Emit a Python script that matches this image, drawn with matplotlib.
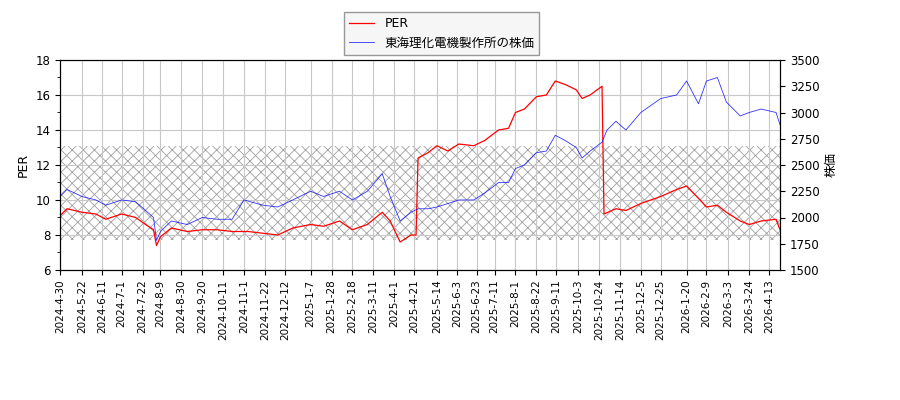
import matplotlib
matplotlib.use("Agg")
import matplotlib.pyplot as plt
import pandas as pd

plt.rcParams["font.family"] = ["DejaVu Sans", "Noto Sans CJK JP"]
plt.rcParams["hatch.color"] = "#a0a0a0"
plt.rcParams["hatch.linewidth"] = 0.6

per_dates = [
    "2024-04-30", "2024-05-07", "2024-05-22", "2024-06-05", "2024-06-15", "2024-07-01",
    "2024-07-15", "2024-07-25", "2024-08-02", "2024-08-05", "2024-08-09", "2024-08-20",
    "2024-09-05", "2024-09-20", "2024-10-05", "2024-10-20", "2024-11-05", "2024-11-20",
    "2024-12-05", "2024-12-20", "2025-01-07", "2025-01-20", "2025-02-05", "2025-02-18",
    "2025-03-05", "2025-03-20", "2025-03-28", "2025-04-07", "2025-04-18", "2025-04-23",
    "2025-04-25", "2025-05-05", "2025-05-14", "2025-05-25", "2025-06-05", "2025-06-20",
    "2025-07-01", "2025-07-15", "2025-07-25", "2025-08-01", "2025-08-10", "2025-08-22",
    "2025-09-01", "2025-09-10", "2025-09-20", "2025-10-01", "2025-10-07", "2025-10-15",
    "2025-10-27", "2025-10-29", "2025-11-10", "2025-11-20", "2025-12-05", "2025-12-25",
    "2026-01-10", "2026-01-20", "2026-02-01", "2026-02-09", "2026-02-20", "2026-03-01",
    "2026-03-15", "2026-03-24", "2026-04-05", "2026-04-20", "2026-04-24",
]
per_values = [
    9.1, 9.5, 9.3, 9.2, 8.9, 9.2, 9.0, 8.6, 8.3, 7.4, 7.9, 8.4,
    8.2, 8.3, 8.3, 8.2, 8.2, 8.1, 8.0, 8.4, 8.6, 8.5, 8.8, 8.3,
    8.6, 9.3, 8.8, 7.6, 8.0, 8.0, 12.4, 12.7, 13.1, 12.8, 13.2, 13.1,
    13.4, 14.0, 14.1, 15.0, 15.2, 15.9, 16.0, 16.8, 16.6, 16.3, 15.8, 16.0,
    16.5, 9.2, 9.5, 9.4, 9.8, 10.2, 10.6, 10.8, 10.1, 9.6, 9.7, 9.3,
    8.8, 8.6, 8.8, 8.9, 8.3,
]

price_dates = [
    "2024-04-30", "2024-05-07", "2024-05-22", "2024-06-05", "2024-06-15", "2024-07-01",
    "2024-07-15", "2024-07-25", "2024-08-02", "2024-08-05", "2024-08-09", "2024-08-20",
    "2024-09-05", "2024-09-20", "2024-10-05", "2024-10-20", "2024-11-01", "2024-11-20",
    "2024-12-05", "2024-12-20", "2025-01-07", "2025-01-20", "2025-02-05", "2025-02-18",
    "2025-03-05", "2025-03-20", "2025-03-28", "2025-04-07", "2025-04-18", "2025-04-25",
    "2025-05-05", "2025-05-14", "2025-05-25", "2025-06-05", "2025-06-20", "2025-07-01",
    "2025-07-15", "2025-07-25", "2025-08-01", "2025-08-10", "2025-08-22", "2025-09-01",
    "2025-09-10", "2025-09-20", "2025-10-01", "2025-10-07", "2025-10-15", "2025-10-27",
    "2025-11-01", "2025-11-10", "2025-11-20", "2025-12-05", "2025-12-25", "2026-01-10",
    "2026-01-20", "2026-02-01", "2026-02-09", "2026-02-20", "2026-03-01", "2026-03-15",
    "2026-03-24", "2026-04-05", "2026-04-20", "2026-04-24",
]
price_values = [
    2200, 2267, 2200, 2167, 2117, 2167, 2150, 2067, 2000, 1783, 1867, 1967,
    1933, 2000, 1983, 1983, 2167, 2117, 2100, 2167, 2250, 2200, 2250, 2167,
    2250, 2417, 2200, 1967, 2050, 2083, 2083, 2100, 2133, 2167, 2167, 2233,
    2333, 2333, 2467, 2500, 2617, 2633, 2783, 2733, 2667, 2567, 2633, 2717,
    2833, 2917, 2833, 3000, 3133, 3167, 3300, 3083, 3300, 3333, 3100, 2967,
    3000, 3033, 3000, 2883,
]

tick_dates = [
    "2024-04-30", "2024-05-22", "2024-06-11", "2024-07-01", "2024-07-22", "2024-08-09",
    "2024-08-30", "2024-09-20", "2024-10-11", "2024-11-01", "2024-11-22", "2024-12-12",
    "2025-01-07", "2025-01-28", "2025-02-18", "2025-03-11", "2025-04-01", "2025-04-21",
    "2025-05-14", "2025-06-03", "2025-06-23", "2025-07-11", "2025-08-01", "2025-08-22",
    "2025-09-11", "2025-10-03", "2025-10-24", "2025-11-14", "2025-12-05", "2025-12-25",
    "2026-01-20", "2026-02-09", "2026-03-03", "2026-03-24", "2026-04-13",
]
band_low, band_high = 7.7, 13.1

per_x = pd.to_datetime(per_dates)
price_x = pd.to_datetime(price_dates)
ticks = pd.to_datetime(tick_dates)

fig = plt.figure(figsize=(9, 4), dpi=100)
ax = fig.add_axes([0.0667, 0.325, 0.8, 0.525])
ax2 = ax.twinx()

ax.axhspan(band_low, band_high, facecolor="none", edgecolor="#a0a0a0",
           hatch="xxx", linewidth=0)
l1, = ax.plot(per_x, per_values, color="red", linewidth=0.9, label="PER")
l2, = ax2.plot(price_x, price_values, color="blue", linewidth=0.6, alpha=0.8,
               label="東海理化電機製作所の株価")

ax.set_ylim(6, 18)
ax2.set_ylim(1500, 3500)
ax.set_xlim(pd.Timestamp("2024-04-30"), pd.Timestamp("2026-04-24"))
ax.tick_params(labelsize=8.5)
ax2.tick_params(labelsize=8.5)
ax.set_xticks(ticks)
ax.set_xticklabels([f"{d.year}-{d.month}-{d.day}" for d in ticks],
                   rotation=90, fontsize=7.5)
ax.yaxis.set_minor_locator(matplotlib.ticker.AutoMinorLocator(2))
ax.grid(True, color="#c8c8c8", linewidth=0.8)
ax.set_ylabel("PER", fontsize=9)
ax2.set_ylabel("株価", fontsize=9)

fig.legend(handles=[l1, l2], loc="upper center", bbox_to_anchor=(0.491, 0.985),
           fancybox=False, edgecolor="#808080", facecolor="#f4f4f4", fontsize=9)

fig.savefig("out.png")
